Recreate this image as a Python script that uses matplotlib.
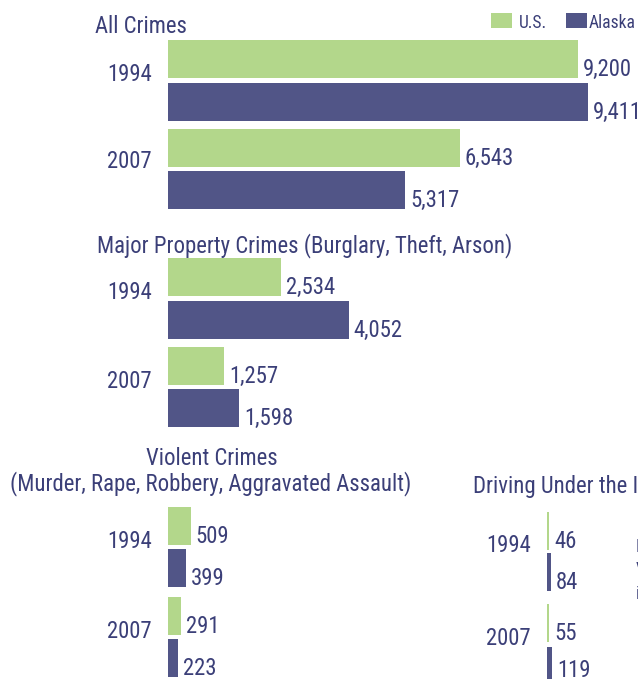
import matplotlib
matplotlib.use("Agg")
import matplotlib.pyplot as plt
from matplotlib import font_manager
from matplotlib.patches import Rectangle

# ---- data ----
years = ['1994', '2007']
all_us = [9200, 6543]
all_ak = [9411, 5317]
prop_us = [2534, 1257]
prop_ak = [4052, 1598]
viol_us = [509, 291]
viol_ak = [399, 223]
dui_us = [46, 55]
dui_ak = [84, 119]

# ---- font: prefer a narrow face ----
names = {f.name for f in font_manager.fontManager.ttflist}
stretch = 'normal'
family = None
for cand in ['Liberation Sans Narrow', 'Roboto Condensed', 'Open Sans Condensed',
             'Noto Sans Condensed', 'DejaVu Sans Condensed']:
    if cand in names:
        family = cand
        break
if family is None:
    if any(f.name == 'DejaVu Sans' and str(f.stretch) in ('condensed', '500')
           for f in font_manager.fontManager.ttflist):
        family, stretch = 'DejaVu Sans', 'condensed'
    elif 'Liberation Sans' in names:
        family = 'Liberation Sans'
    else:
        family = 'DejaVu Sans'
plt.rcParams['font.family'] = [family, 'DejaVu Sans']
plt.rcParams['font.stretch'] = stretch

# ---- style ----
W, H = 638, 679
SCALE = 0.0446          # pixels per crime count, shared by every panel
BAR_H = 38
GREEN = '#b3d78b'
NAVY = '#515587'
TEXT = '#3b3f78'

fig = plt.figure(figsize=(W / 100, H / 100), dpi=100)
renderer = fig.canvas.get_renderer()

# size the type so the longest heading spans its 413 px
probe = fig.text(0, 0, 'Major Property Crimes (Burglary, Theft, Arson)', fontsize=10)
width10 = probe.get_window_extent(renderer).width
probe.remove()
FS = min(17.5, 10 * 413 / width10)
FS_SMALL = FS * 13.5 / 17.5


def fx(px):
    return px / W


def fy(py):
    return 1 - py / H


def panel(x0, us, ak, us_y, ak_y, year_y):
    ax = fig.add_axes([fx(x0), 0, (W - x0) / W, 1])
    ax.set_xlim(0, (W - x0) / SCALE)
    ax.set_ylim(H, 0)
    ax.axis('off')
    ax.barh(us_y, us, height=BAR_H, color=GREEN, linewidth=0)
    ax.barh(ak_y, ak, height=BAR_H, color=NAVY, linewidth=0)
    pad = 5 / SCALE
    for vals, ys in ((us, us_y), (ak, ak_y)):
        for v, y in zip(vals, ys):
            base = min(y + BAR_H / 2 - 2, H - 2)
            ax.text(v + pad, base, f"{v:,}", color=TEXT,
                    fontsize=FS, va='baseline', ha='left', clip_on=False)
    for yr, y in zip(years, year_y):
        ax.text(-16 / SCALE, y, yr, color=TEXT, fontsize=FS,
                va='baseline', ha='right', clip_on=False)
    return ax


# All crimes
fig.text(fx(95), fy(33), 'All Crimes', color=TEXT, fontsize=FS, va='baseline')
panel(168, all_us, all_ak, [59, 148], [102, 190], [81, 168])

# Major property crimes
fig.text(fx(97), fy(252), 'Major Property Crimes (Burglary, Theft, Arson)',
         color=TEXT, fontsize=FS, va='baseline')
panel(168, prop_us, prop_ak, [277, 366], [320, 408], [299, 388])

# Violent crimes
fig.text(fx(212), fy(465), 'Violent Crimes', color=TEXT, fontsize=FS,
         va='baseline', ha='center')
fig.text(fx(211), fy(490), '(Murder, Rape, Robbery, Aggravated Assault)',
         color=TEXT, fontsize=FS, va='baseline', ha='center')
panel(168, viol_us, viol_ak, [526, 616], [568, 658], [548, 638])

# Driving under the influence
fig.text(fx(473), fy(493), 'Driving Under the Influence', color=TEXT,
         fontsize=FS, va='baseline')
panel(547, dui_us, dui_ak, [531, 623], [572, 666], [552, 645])

# side note
for txt, y in (('Rates per', 552), ('Values are', 575), ('in 100,000', 598)):
    fig.text(fx(636), fy(y), txt, color=TEXT, fontsize=FS_SMALL, va='baseline')

# legend
fig.add_artist(Rectangle((fx(491), fy(28)), 21 / W, 15 / H,
                         transform=fig.transFigure, color=GREEN, lw=0))
fig.text(fx(519), fy(28), 'U.S.', color=TEXT, fontsize=FS_SMALL, va='baseline')
fig.add_artist(Rectangle((fx(566), fy(28)), 21 / W, 15 / H,
                         transform=fig.transFigure, color=NAVY, lw=0))
fig.text(fx(589), fy(28), 'Alaska', color=TEXT, fontsize=FS_SMALL, va='baseline')

fig.savefig('out.png', dpi=100, facecolor='white')
